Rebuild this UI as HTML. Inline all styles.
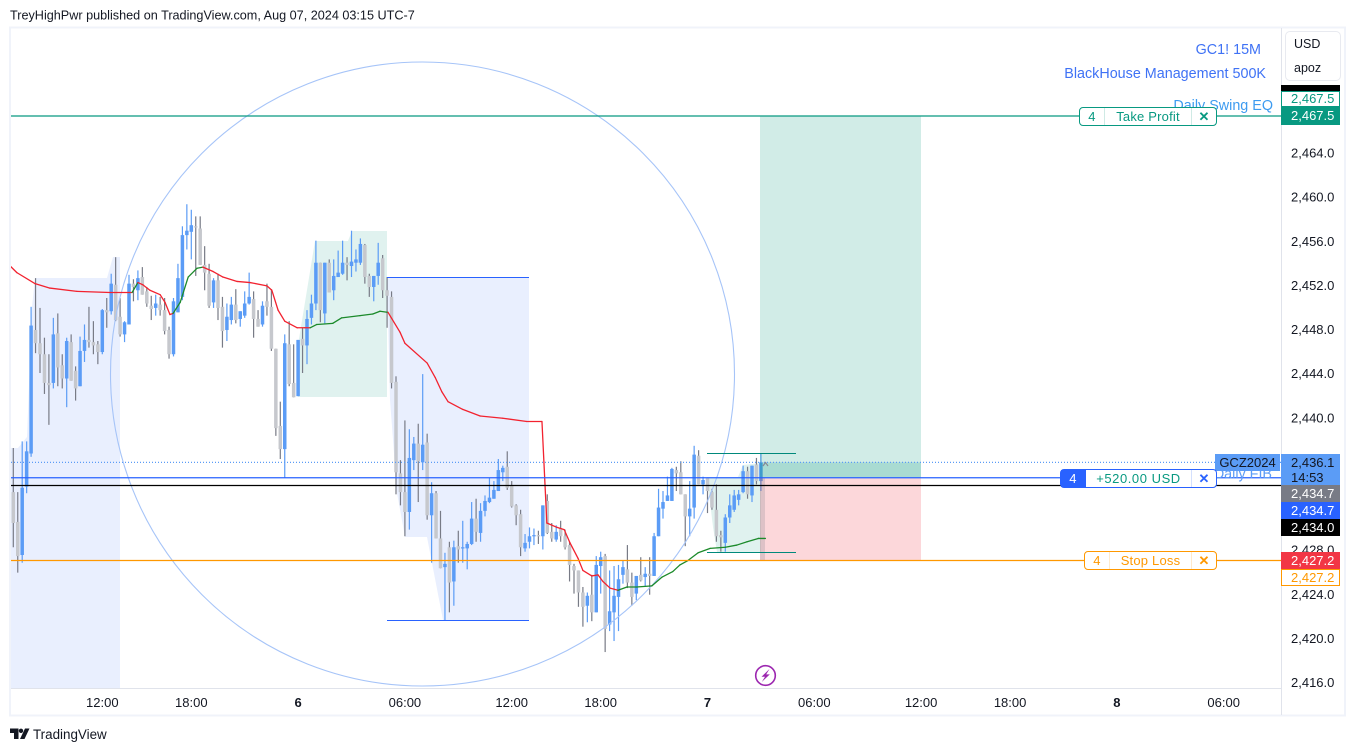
<!DOCTYPE html>
<html lang="en">
<head>
<meta charset="utf-8">
<title>GC1! 15M chart</title>
<style>
html,body{margin:0;padding:0;background:#fff;width:1355px;height:751px;overflow:hidden}
body{font-family:"Liberation Sans",sans-serif;color:#131722;position:relative}
#chart{position:absolute;left:0;top:0}
svg text{font-family:"Liberation Sans",sans-serif}
.pill{position:absolute;box-sizing:border-box;display:flex;background:#fff;border:1px solid;border-radius:4px;font-size:13px;line-height:17px;height:19px;align-items:stretch;text-align:center;letter-spacing:.2px}
.pill span{display:block}
.pill .q{border-right:1px solid}
.pill .m{flex:1}
.pill .c{width:24px;border-left:1px solid;font-size:13px;font-weight:bold}
.tag{position:absolute;left:1281px;width:59px;box-sizing:border-box;font-size:13px;text-align:left;padding-left:10px;line-height:17px;height:17px}
</style>
</head>
<body>
<svg id="chart" width="1355" height="751" viewBox="0 0 1355 751" xmlns="http://www.w3.org/2000/svg">
  <defs><clipPath id="pane"><rect x="11" y="28" width="1270" height="660"/></clipPath></defs>
  <text x="10" y="19.5" font-size="12.65" fill="#131722">TreyHighPwr published on TradingView.com, Aug 07, 2024 03:15 UTC-7</text>
  <rect x="10" y="27.5" width="1335" height="688" fill="#fff" stroke="#f0f3fa" stroke-width="2"/>
  <g id="regions" clip-path="url(#pane)">
    <polygon points="11,448 18,448 27,437 32,307 35,278 107,278 113,257 120,257 120,688 11,688" fill="#e9effe"/>
    <polygon points="387,277 529,277 529,620 443,620 432,563 427,537 405,537 397,493 390,400" fill="#e9effe"/>
    <polygon points="315,241 348,241 352,231 387,231 387,397 298,397 298,345" fill="#e0f2ef"/>
    <polygon points="707,477 738,477 743,465 761,463 761,552 717,552 713,527" fill="#e0f2ef"/>
  </g>
  <g id="candles" clip-path="url(#pane)"></g>
  <g id="position"></g>
  <circle cx="422.5" cy="374" r="312" fill="none" stroke="#a6c4f8" stroke-width="1.1" clip-path="url(#pane)"/>
  <g id="vwap" clip-path="url(#pane)"></g>
  <g id="levels"></g>
  <g>
    <line x1="387" x2="529" y1="277.5" y2="277.5" stroke="#2962ff"/>
    <line x1="387" x2="529" y1="620.5" y2="620.5" stroke="#2962ff"/>
    <line x1="707" x2="796" y1="453.5" y2="453.5" stroke="#00897b"/>
    <line x1="707" x2="796" y1="552.5" y2="552.5" stroke="#00897b"/>
  </g>
  <path d="M763 466 L765.5 462.5 L768 466" fill="none" stroke="#868993" stroke-width="1.2"/>
  <text x="1261" y="54" text-anchor="end" font-size="14.35" fill="#3f72f5">GC1! 15M</text>
  <text x="1266" y="78" text-anchor="end" font-size="14.35" fill="#3f72f5">BlackHouse Management 500K</text>
  <text x="1273" y="110" text-anchor="end" font-size="14.35" fill="#3d9bf0">Daily Swing EQ</text>
  <text x="1272" y="478.5" text-anchor="end" font-size="14.35" fill="#5b9cf6">Daily FIB</text>
  <g>
    <circle cx="765.5" cy="675.5" r="9.8" fill="#fff" stroke="#9c27b0" stroke-width="1.6"/>
    <path d="M769.5 669 L761.5 676.8 L765 676.8 L761.8 682 L769.8 674.4 L766.2 674.4 Z" fill="#9c27b0"/>
  </g>
  <line x1="11" x2="1281" y1="688.5" y2="688.5" stroke="#e0e3eb"/>
  <line x1="1281.5" x2="1281.5" y1="28" y2="715" stroke="#e0e3eb"/>
  <g id="timeAxis"></g>
  <g id="priceAxis"></g>
  <g>
    <path d="M10 728.5 H18.5 V739 H14 V733 H10 Z" fill="#131722"/>
    <circle cx="21" cy="730.8" r="2.2" fill="#131722"/>
    <path d="M25 728.5 H29.5 L24.5 739 H20 Z" fill="#131722"/>
    <text x="33" y="739" font-size="13.4" fill="#131722">TradingView</text>
  </g>
</svg>

<div class="tag" style="top:85px;height:6px;background:#000;color:#fff"></div>
<div class="tag" style="top:91px;height:16px;line-height:14px;background:#fff;color:#089981;border:1px solid #089981;padding-left:9px">2,467.5</div>
<div class="tag" style="top:107px;height:18px;background:#089981;color:#fff">2,467.5</div>
<div class="tag" style="top:454px;height:31px;background:#5b9cf6;color:#131722;line-height:15px;padding-top:1px">2,436.1<br>14:53</div>
<div class="tag" style="top:485px;background:#787b86;color:#fff">2,434.7</div>
<div class="tag" style="top:502px;background:#2962ff;color:#fff">2,434.7</div>
<div class="tag" style="top:519px;background:#000;color:#fff">2,434.0</div>
<div class="tag" style="top:552px;background:#f23645;color:#fff">2,427.2</div>
<div class="tag" style="top:569px;background:#fff;color:#ff9800;border:1px solid #ff9800;padding-left:9px;line-height:15px">2,427.2</div>
<div style="position:absolute;left:1215px;top:454px;width:65px;height:17px;background:#5b9cf6;color:#131722;font-size:13px;line-height:17px;text-align:center">GCZ2024</div>

<div class="pill" style="left:1079px;top:107px;width:138px;color:#089981;border-color:#089981">
  <span class="q" style="width:24px;border-color:#cfeae5">4</span>
  <span class="m">Take Profit</span>
  <span class="c" style="border-color:#cfeae5">✕</span>
</div>
<div class="pill" style="left:1060px;top:469px;width:157px;color:#089981;border-color:#2962ff">
  <span class="q" style="width:24px;background:#2962ff;color:#fff;border-color:#2962ff">4</span>
  <span class="m" style="letter-spacing:.55px">+520.00 USD</span>
  <span class="c" style="color:#2962ff;border-color:#d4e0fd">✕</span>
</div>
<div class="pill" style="left:1084px;top:551px;width:133px;color:#ff9800;border-color:#ff9800">
  <span class="q" style="width:24px;border-color:#ffeacc">4</span>
  <span class="m">Stop Loss</span>
  <span class="c" style="border-color:#ffeacc">✕</span>
</div>

<div style="position:absolute;left:1285px;top:31px;width:56px;height:50px;box-sizing:border-box;background:#fff;border:1px solid #e8eaf0;border-radius:5px;font-size:12.5px;padding-left:8px;color:#131722">
  <div style="line-height:24px">USD</div>
  <div style="line-height:24px">apoz</div>
</div>

<script>
const opens = [
2433.4,2430.7,2427.7,2433.9,2436.9,2448.1,2446.9,2445.9,2443.3,2443.3,
2447.8,2444.9,2443.7,2447.0,2444.4,2443.0,2446.2,2447.2,2447.0,2446.8,
2446.1,2449.9,2449.8,2452.2,2449.3,2447.7,2448.6,2452.3,2451.7,2452.9,
2451.6,2450.3,2450.1,2450.4,2449.9,2448.1,2445.9,2449.7,2451.1,2456.7,
2457.0,2457.5,2457.3,2454.0,2453.2,2450.6,2452.6,2450.2,2448.1,2449.0,
2450.4,2449.1,2449.4,2450.5,2450.9,2449.1,2448.6,2450.7,2450.2,2446.4,
2439.4,2437.3,2446.8,2443.3,2442.1,2447.3,2446.7,2449.2,2450.5,2454.2,
2449.6,2454.2,2451.7,2452.9,2453.2,2454.2,2453.9,2454.2,2454.2,2455.8,
2453.0,2452.0,2453.0,2454.6,2451.7,2451.1,2443.4,2435.1,2433.4,2431.6,
2436.3,2437.8,2436.1,2437.9,2431.3,2433.3,2429.2,2426.6,2428.4,2425.3,
2428.5,2428.3,2428.3,2428.7,2431.0,2429.7,2431.7,2432.5,2432.8,2433.5,
2435.2,2435.7,2434.0,2432.2,2431.4,2428.3,2428.9,2429.4,2429.5,2429.4,
2432.6,2429.8,2429.1,2430.1,2429.4,2428.6,2426.7,2426.3,2424.3,2423.1,
2424.1,2422.5,2426.7,2427.6,2421.4,2422.5,2423.9,2425.9,2426.4,2425.2,
2424.2,2425.9,2425.7,2426.0,2425.8,2429.4,2431.9,2432.6,2432.6,2435.4,
2435.2,2433.2,2431.2,2432.0,2436.7,2434.1,2434.7,2433.4,2431.8,2429.5,
2428.8,2431.1,2431.8,2432.7,2433.4,2435.3,2433.1,2435.9,2434.4];
const highs = [
2437.4,2433.4,2438.0,2438.0,2450.2,2452.8,2450.1,2447.4,2445.9,2449.2,
2449.6,2445.9,2447.4,2447.7,2444.8,2447.5,2448.6,2450.2,2448.9,2447.1,
2450.0,2451.0,2453.2,2454.7,2451.0,2448.9,2453.1,2452.7,2453.5,2453.8,
2452.0,2451.2,2451.3,2451.1,2451.0,2448.4,2451.0,2454.1,2457.5,2459.5,
2459.0,2458.4,2458.4,2455.7,2454.1,2452.8,2453.2,2451.1,2450.5,2451.1,
2451.8,2449.8,2451.6,2453.3,2451.6,2449.9,2450.7,2452.3,2451.8,2446.4,
2441.6,2447.7,2448.9,2446.8,2447.2,2448.3,2449.9,2451.3,2456.2,2454.2,
2454.2,2454.5,2454.5,2455.3,2456.2,2454.7,2457.1,2455.4,2456.4,2455.9,
2453.2,2453.0,2456.0,2454.9,2452.9,2451.6,2443.9,2436.3,2439.9,2439.1,
2438.4,2439.6,2444.1,2438.7,2434.3,2433.5,2431.7,2427.9,2428.9,2429.0,
2429.9,2430.8,2428.9,2432.5,2432.8,2432.4,2433.1,2434.7,2434.4,2436.4,
2435.8,2437.1,2434.4,2432.3,2431.8,2429.6,2430.2,2430.1,2429.9,2432.2,
2433.2,2430.6,2430.4,2430.8,2430.0,2428.9,2426.9,2426.3,2424.8,2424.3,
2425.9,2427.6,2428.0,2427.8,2426.3,2426.7,2426.8,2427.2,2428.6,2426.1,
2425.8,2427.5,2426.6,2427.5,2429.7,2433.7,2433.5,2434.8,2435.6,2435.7,
2436.2,2433.2,2434.4,2437.6,2437.2,2434.8,2434.7,2433.7,2434.1,2429.9,
2431.4,2433.2,2433.6,2433.6,2435.8,2435.7,2435.8,2436.5,2436.9];
const lows = [
2428.4,2426.1,2427.0,2433.3,2436.6,2446.0,2444.2,2442.3,2439.5,2442.8,
2443.0,2442.8,2441.1,2443.5,2441.7,2443.0,2445.2,2446.5,2445.9,2445.0,
2445.9,2448.3,2449.5,2448.9,2447.5,2447.0,2448.6,2450.7,2450.8,2451.3,
2450.2,2449.0,2449.4,2449.4,2447.7,2445.5,2445.7,2449.7,2450.8,2455.4,
2454.5,2453.0,2454.0,2451.7,2450.1,2450.1,2449.0,2446.5,2447.1,2448.6,
2448.7,2448.4,2449.2,2450.4,2447.4,2448.4,2448.4,2449.4,2446.2,2438.5,
2436.4,2434.7,2443.0,2442.0,2442.1,2444.2,2445.0,2448.6,2449.9,2448.8,
2448.7,2451.5,2450.8,2452.9,2453.1,2452.6,2452.9,2453.4,2454.0,2452.3,
2451.1,2450.7,2452.2,2451.0,2448.3,2442.8,2433.2,2432.2,2429.4,2430.0,
2435.4,2432.5,2435.4,2430.9,2427.0,2429.2,2426.5,2421.8,2422.5,2423.1,
2427.0,2427.0,2426.4,2428.6,2428.9,2428.9,2431.2,2432.4,2432.8,2433.5,
2434.4,2433.6,2432.0,2430.4,2427.6,2428.0,2428.3,2428.6,2428.7,2428.2,
2429.6,2428.9,2428.9,2428.9,2428.2,2425.3,2424.2,2423.0,2421.2,2421.6,
2421.7,2422.5,2424.2,2418.9,2420.8,2419.9,2420.8,2425.1,2424.7,2423.1,
2423.6,2425.3,2424.8,2424.1,2425.8,2429.4,2431.0,2432.6,2432.6,2433.5,
2433.2,2428.5,2429.4,2431.0,2434.1,2433.2,2431.5,2431.8,2428.9,2428.0,
2428.0,2430.6,2431.6,2432.2,2433.3,2432.8,2432.5,2434.1,2433.5];
const closes = [
2430.6,2427.6,2433.8,2437.1,2448.5,2446.9,2445.9,2443.3,2443.1,2447.7,
2444.7,2443.7,2447.1,2443.5,2442.8,2446.2,2447.2,2447.0,2446.7,2446.1,
2449.9,2449.7,2452.3,2449.0,2447.7,2448.8,2452.3,2452.0,2452.8,2451.3,
2450.5,2450.0,2450.5,2449.9,2448.0,2445.9,2450.7,2452.8,2456.7,2457.1,
2457.6,2457.4,2454.0,2453.3,2450.3,2452.6,2450.1,2448.0,2449.3,2450.4,
2449.0,2449.8,2450.5,2451.1,2449.1,2448.4,2450.3,2450.2,2446.4,2439.2,
2437.3,2446.9,2443.2,2442.0,2447.2,2446.7,2449.1,2450.5,2454.2,2449.9,
2454.2,2451.5,2453.0,2453.3,2454.2,2454.0,2454.3,2454.5,2455.9,2452.9,
2452.0,2453.0,2454.2,2451.7,2451.2,2443.3,2435.2,2433.4,2431.6,2436.5,
2437.8,2436.2,2437.7,2431.3,2433.3,2429.2,2426.5,2426.9,2425.2,2428.4,
2428.2,2428.4,2428.7,2431.0,2429.8,2431.7,2432.6,2432.9,2433.6,2435.4,
2435.6,2433.8,2432.1,2431.3,2428.4,2428.8,2429.4,2429.5,2429.4,2432.2,
2429.7,2429.2,2429.8,2429.4,2428.4,2426.8,2426.3,2424.3,2423.0,2424.0,
2422.5,2426.8,2427.5,2421.0,2422.6,2424.0,2425.5,2426.6,2425.2,2423.9,
2425.8,2425.4,2426.0,2425.8,2429.4,2432.0,2432.5,2433.1,2435.5,2435.1,
2433.2,2431.2,2431.9,2436.8,2434.1,2434.5,2433.5,2432.0,2429.4,2429.3,
2431.1,2432.2,2433.1,2433.2,2435.3,2433.2,2435.8,2434.4,2436.1];

const vwapBars = [-0.7,0.8,4.9,8.2,14.3,21.7,26.7,28,29.1,30.7,33,34.1,35.2,35.9,37.5,39.3,41.3,42.6,44.9,47.1,50.3,53.2,57,58.1,59.5,61,63.8,65.5,66.7,68.2,71.8,73.8,77.9,80.8,82.4,84.2,86.9,88,93,94.8,96.3,97.7,101,104.9,110,115.4,118.8,119.9,122.2,123.8,125.1,126.9,128,130,131.4,132.5,134.1,135.9,137.9,140.1,143.5,145.8,148.2,149.8,151.6,153.9,156.6,160,162.6,164.9,167.4,169];
const vwapValues = [2453.9,2453.3,2452.3,2451.9,2451.6,2451.5,2451.5,2452.4,2452.2,2451.7,2451.3,2450.6,2449.5,2449.6,2450.6,2452.9,2453.7,2453.8,2453.4,2452.9,2452.5,2452.4,2452.1,2451.7,2449.9,2448.9,2448.3,2448.3,2448.3,2448.6,2448.7,2449.2,2449.4,2449.55,2449.8,2449.7,2447.9,2446.9,2445.1,2443.8,2442.5,2441.6,2440.9,2440.3,2440.1,2439.8,2439.8,2430.6,2430.2,2430.0,2428.8,2427.4,2426.3,2425.8,2425.9,2425.3,2424.7,2424.5,2424.8,2424.8,2424.9,2425.7,2426.2,2426.8,2427.2,2427.9,2428.3,2428.4,2428.6,2428.9,2429.2,2429.2];
const vwapTrend = "rrrrrrrgrrrrrrggggrrrrrrrrrrrgggggggrrrrrrrrrrrrrrrrrrrrrrgggggggggggggg";

const priceTicks = [2464,2460,2456,2452,2448,2444,2440,2428,2424,2420,2416];
const timeTickBars = [20,40,64,88,112,132,156,180,204,224,248,272];
const timeTickLabels = ["12:00","18:00","6","06:00","12:00","18:00","7","06:00","12:00","18:00","8","06:00"];
const takeProfitPrice = 2467.5;
const entryPrice = 2434.7;
const blackLevelPrice = 2434.0;
const stopLossPrice = 2427.2;
const lastPrice = 2436.1;
const positionStartBar = 168;
const positionEndBar = 204;

const NS = "http://www.w3.org/2000/svg";
function xAt(bar){ return 13.3 + 4.45 * bar; }
function yAt(price){ return 116 + (2467.5 - price) * 11.03; }
function make(tag, parent, attrs){
  const node = document.createElementNS(NS, tag);
  for (const k in attrs) node.setAttribute(k, attrs[k]);
  parent.appendChild(node);
  return node;
}
function fmt(p){ return p.toFixed(1).replace(/^(\d)(\d{3})/, "$1,$2"); }

const candleLayer = document.getElementById("candles");
opens.forEach(function(open, i){
  const up = closes[i] >= open;
  const cx = xAt(i);
  const top = yAt(Math.max(open, closes[i]));
  const bottom = yAt(Math.min(open, closes[i]));
  const group = make("g", candleLayer, {});
  
  
  const wick = make("rect", group, {x: cx - 0.6, y: yAt(highs[i]), width: 1.2, height: Math.max(1, yAt(lows[i]) - yAt(highs[i])), fill: up ? "#5b9cf6" : "#787b86"});
  
  
  const body = make("rect", group, {x: cx - 1.75, y: top, width: 3.5, height: Math.max(1.2, bottom - top), fill: up ? "#5b9cf6" : "#c6c8cd"});
  
  
});

const positionLayer = document.getElementById("position");
const posX = Math.round(xAt(positionStartBar)) - 1;
const posW = Math.round(xAt(positionEndBar)) - posX;
const profitZone = make("rect", positionLayer, {x: posX, y: yAt(takeProfitPrice), width: posW, height: yAt(entryPrice) - yAt(takeProfitPrice), fill: "#089981", "fill-opacity": 0.19});


const lossZone = make("rect", positionLayer, {x: posX, y: yAt(entryPrice), width: posW, height: yAt(stopLossPrice) - yAt(entryPrice), fill: "#f23645", "fill-opacity": 0.2});


const openZone = make("rect", positionLayer, {x: posX, y: yAt(lastPrice), width: posW, height: yAt(entryPrice) - yAt(lastPrice), fill: "#089981", "fill-opacity": 0.2});


const lastBarBand = make("rect", positionLayer, {x: posX, y: yAt(entryPrice), width: 5, height: yAt(stopLossPrice) - yAt(entryPrice), fill: "#787b86", "fill-opacity": 0.22});



const vwapLayer = document.getElementById("vwap");
for (let i = 1; i < vwapBars.length; i++) {
  const seg = make("line", vwapLayer, {x1: xAt(vwapBars[i-1]), y1: yAt(vwapValues[i-1]), x2: xAt(vwapBars[i]), y2: yAt(vwapValues[i]), stroke: vwapTrend[i] === "g" ? "#1b8a2a" : "#f2222f", "stroke-width": 1.3, "stroke-linecap": "round"});
  
  
}

const levelLayer = document.getElementById("levels");
function level(price, colour, dash){
  const y = yAt(price);
  const ln = make("line", levelLayer, {x1: 11, x2: 1281, y1: y, y2: y, stroke: colour, "stroke-width": 1.3});
  if (dash) ln.setAttribute("stroke-dasharray", dash);
  return ln;
}
const lastLine = level(lastPrice, "#5b9cf6", "1 2");


const tpLine = level(takeProfitPrice, "#089981");


const entryLine = level(entryPrice, "#2962ff");


const blackLine = level(blackLevelPrice, "#000000");


const stopLine = level(stopLossPrice, "#ff9800");



const timeLayer = document.getElementById("timeAxis");
timeTickBars.forEach(function(bar, i){
  const isDay = timeTickLabels[i].length < 3;
  const t = make("text", timeLayer, {x: xAt(bar), y: 707, "text-anchor": "middle", "font-size": 13, fill: "#131722", "font-weight": isDay ? "bold" : "normal"});
  t.textContent = timeTickLabels[i];
  
  
});

const priceLayer = document.getElementById("priceAxis");
priceTicks.forEach(function(p){
  const t = make("text", priceLayer, {x: 1291, y: yAt(p) + 3, "font-size": 13, fill: "#131722"});
  t.textContent = fmt(p);
  
  
});
</script>
</body>
</html>
